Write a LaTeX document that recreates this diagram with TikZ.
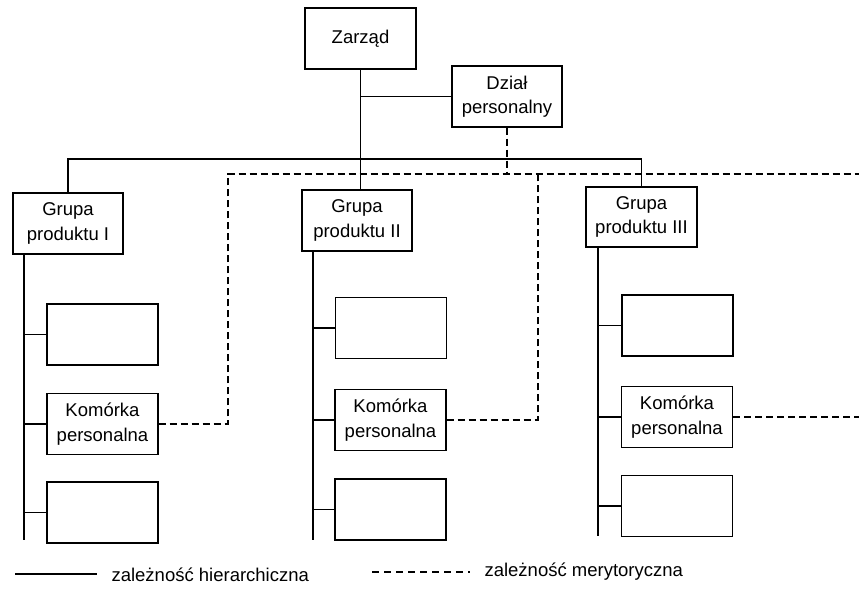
\documentclass[tikz,border=0pt]{standalone}
\usepackage{fontspec}
\setmainfont{Liberation Sans}
\begin{document}
\begin{tikzpicture}[x=1pt,y=-1pt,
  line width=1.1pt,
  unit/.style={draw, fill=white, minimum width=111pt, minimum height=61pt,
    inner sep=2pt, align=center, font=\fontsize{18.5}{24.5}\selectfont},
  tie/.style={line width=1.1pt},
  merit/.style={line width=1.1pt, dash pattern=on 7pt off 4pt},
  legendtext/.style={anchor=west, inner sep=0pt, font=\fontsize{18.5}{22}\selectfont}]
\useasboundingbox (0,0) rectangle (859,602);

% management level
\node[unit] (z) at (360.5,38.5) {Zarząd};
\node[unit, minimum width=110pt] (d) at (507,96.5) {Dział\\personalny};

% product groups
\node[unit, minimum width=110pt] (g1) at (68,223.5) {Grupa\\produktu I};
\node[unit, minimum width=110pt] (g2) at (357,220.5) {Grupa\\produktu II};
\node[unit, minimum height=60pt] (g3) at (641.5,217) {Grupa\\produktu III};

% units of group I
\node[unit] (a1) at (102.5,334.5) {};
\node[unit] (k1) at (102.5,424) {Komórka\\personalna};
\node[unit] (b1) at (102.5,512.5) {};
% units of group II
\node[unit] (a2) at (391,328) {};
\node[unit] (k2) at (390.5,420) {Komórka\\personalna};
\node[unit] (b2) at (390.5,509.5) {};
% units of group III
\node[unit] (a3) at (677.5,325.5) {};
\node[unit] (k3) at (677,417) {Komórka\\personalna};
\node[unit] (b3) at (677,506) {};

% helper points
\coordinate (bus) at (0,159);
\coordinate (s1) at (24,540);
\coordinate (s2) at (313,540);
\coordinate (s3) at (598,536);
\coordinate (dashR) at (859,174);
\coordinate (dl) at (228,0);
\coordinate (dm) at (538,0);

% hierarchical links
\draw[tie] (z.south) -- (z.south |- g2.north);
\draw[tie] (d.west) -- (d.west -| z.south);
\draw[tie] (g1.north) -- (g1.north |- bus) -- (g3.north |- bus) -- (g3.north);

\draw[tie] (g1.south -| s1) -- (s1);
\draw[tie] (a1.west) -- (a1.west -| s1);
\draw[tie] (k1.west) -- (k1.west -| s1);
\draw[tie] (b1.west) -- (b1.west -| s1);

\draw[tie] (g2.south -| s2) -- (s2);
\draw[tie] (a2.west) -- (a2.west -| s2);
\draw[tie] (k2.west) -- (k2.west -| s2);
\draw[tie] (b2.west) -- (b2.west -| s2);

\draw[tie] (g3.south -| s3) -- (s3);
\draw[tie] (a3.west) -- (a3.west -| s3);
\draw[tie] (k3.west) -- (k3.west -| s3);
\draw[tie] (b3.west) -- (b3.west -| s3);

% functional (personnel) links
\draw[merit] (k1.east) -- (k1.east -| dl) -- (dl |- dashR) -- (dashR);
\draw[merit] (d.south) -- (d.south |- dashR);
\draw[merit] (k2.east) -- (k2.east -| dm) -- (dm |- dashR);
\draw[merit] (k3.east) -- (k3.east -| dashR);

% legend
\coordinate (la) at (15,574);
\coordinate (lb) at (97,574);
\coordinate (lc) at (372,572);
\coordinate (ld) at (470,572);
\draw[tie] (la) -- (lb);
\node[legendtext] (lt1) at (111,575) {zależność hierarchiczna};
\draw[merit, dash pattern=on 7pt off 5pt] (lc) -- (ld);
\node[legendtext] (lt2) at (484,572) {zależność merytoryczna};
\end{tikzpicture}
\end{document}
